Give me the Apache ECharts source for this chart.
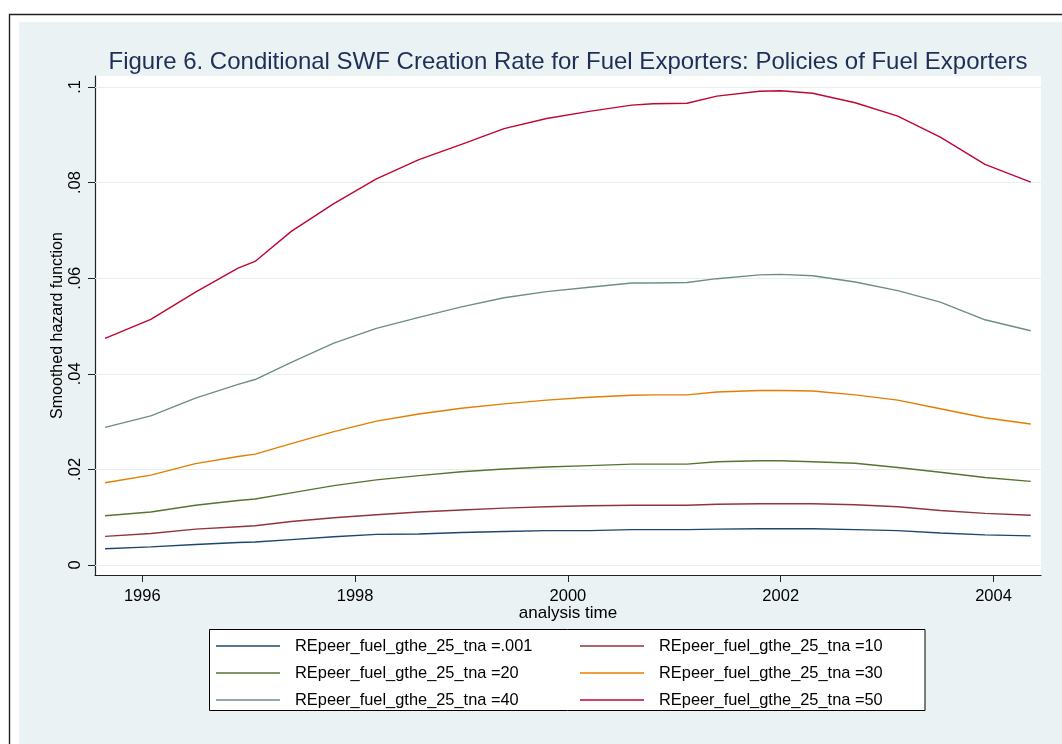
<!DOCTYPE html>
<html>
<head>
<meta charset="utf-8">
<script src="https://cdn.jsdelivr.net/npm/echarts@6/dist/echarts.min.js"></script>
<style>
html,body{margin:0;padding:0;background:#fff;}
#chart{width:1062px;height:744px;}
</style>
</head>
<body>
<div id="chart"></div>
<script>
// analysis time (years)
const years = [1995.65, 1996.08, 1996.5, 1996.9, 1997.06, 1997.4, 1997.8, 1998.2, 1998.6, 1999.0, 1999.4, 1999.8, 2000.2, 2000.6, 2000.8, 2001.12, 2001.4, 2001.8, 2002.0, 2002.3, 2002.7, 2003.1, 2003.5, 2003.92, 2004.35];
const tna001 = [0.0034, 0.0038, 0.0043, 0.0047, 0.0048, 0.0053, 0.0059, 0.0064, 0.0065, 0.0068, 0.0070, 0.0072, 0.0072, 0.0074, 0.0074, 0.0074, 0.0075, 0.0076, 0.0076, 0.0076, 0.0074, 0.0072, 0.0067, 0.0063, 0.0061];
const tna10 = [0.0060, 0.0066, 0.0075, 0.0080, 0.0082, 0.0091, 0.0099, 0.0105, 0.0111, 0.0115, 0.0119, 0.0122, 0.0124, 0.0125, 0.0125, 0.0125, 0.0127, 0.0128, 0.0128, 0.0128, 0.0126, 0.0122, 0.0114, 0.0108, 0.0104];
const tna20 = [0.0103, 0.0111, 0.0125, 0.0135, 0.0138, 0.0151, 0.0166, 0.0178, 0.0187, 0.0195, 0.0201, 0.0205, 0.0208, 0.0211, 0.0211, 0.0211, 0.0216, 0.0218, 0.0218, 0.0216, 0.0213, 0.0204, 0.0194, 0.0183, 0.0175];
const tna30 = [0.0172, 0.0188, 0.0212, 0.0227, 0.0232, 0.0254, 0.0279, 0.0301, 0.0316, 0.0328, 0.0337, 0.0345, 0.0351, 0.0355, 0.0356, 0.0356, 0.0362, 0.0365, 0.0365, 0.0364, 0.0356, 0.0345, 0.0327, 0.0308, 0.0295];
const tna40 = [0.0288, 0.0312, 0.0349, 0.0378, 0.0388, 0.0424, 0.0464, 0.0495, 0.0518, 0.0540, 0.0559, 0.0572, 0.0581, 0.0590, 0.0590, 0.0591, 0.0599, 0.0607, 0.0608, 0.0605, 0.0592, 0.0574, 0.0550, 0.0513, 0.0490];
const tna50 = [0.0474, 0.0514, 0.0571, 0.0621, 0.0635, 0.0698, 0.0756, 0.0808, 0.0848, 0.0880, 0.0913, 0.0934, 0.0949, 0.0962, 0.0965, 0.0966, 0.0981, 0.0991, 0.0992, 0.0987, 0.0967, 0.0939, 0.0895, 0.0838, 0.0801];

const seriesNames = ['REpeer_fuel_gthe_25_tna =.001', 'REpeer_fuel_gthe_25_tna =10', 'REpeer_fuel_gthe_25_tna =20', 'REpeer_fuel_gthe_25_tna =30', 'REpeer_fuel_gthe_25_tna =40', 'REpeer_fuel_gthe_25_tna =50'];
const seriesValues = [tna001, tna10, tna20, tna30, tna40, tna50];
const seriesColors = ['#1A476F', '#90353B', '#55752F', '#E37E00', '#6E8E84', '#C10534'];

const xTicks = [1996, 1998, 2000, 2002, 2004];
const yTicks = [0, 0.02, 0.04, 0.06, 0.08, 0.1];
const yTickLabels = ['0', '.02', '.04', '.06', '.08', '.1'];

const FONT = 'Liberation Sans, Arial, sans-serif';
const chart = echarts.init(document.getElementById('chart'), null, {renderer: 'canvas'});

const lineSeries = seriesNames.map((name, i) => ({
  name: name,
  type: 'line',
  data: years.map((x, j) => [x, seriesValues[i][j]]),
  symbol: 'none',
  showSymbol: false,
  smooth: false,
  color: seriesColors[i],
  lineStyle: {color: seriesColors[i], width: 1.4},
  z: 3
}));

const gridSeries = {
  name: 'grid',
  type: 'line',
  data: [],
  z: 1,
  silent: true,
  markLine: {
    z: 1,
    silent: true,
    symbol: ['none', 'none'],
    label: {show: false},
    lineStyle: {color: '#E6EEF0', width: 1, type: 'solid'},
    emphasis: {disabled: true},
    data: yTicks.map(v => ({yAxis: v}))
  }
};

const legendIcon = 'path://M0,0H64V1.6H0Z';
const legendCommon = {
  orient: 'vertical',
  top: 632.5,
  padding: 0,
  itemGap: 0,
  itemWidth: 64,
  itemHeight: 27,
  icon: legendIcon,
  selectedMode: false,
  textStyle: {fontFamily: FONT, fontSize: 16.4, color: '#000', lineHeight: 27, padding: [0, 0, 0, 10]},
  z: 5
};

const option = {
  animation: false,
  backgroundColor: 'transparent',
  title: {
    text: 'Figure 6. Conditional SWF Creation Rate for Fuel Exporters: Policies of Fuel Exporters',
    left: 568,
    textAlign: 'center',
    top: 50,
    padding: 0,
    textStyle: {fontFamily: FONT, fontSize: 24, fontWeight: 'normal', color: '#1E2E57'}
  },
  graphic: [
    {type: 'rect', z: -20, shape: {x: 9.5, y: 14.5, width: 1070, height: 740}, style: {fill: '#fff', stroke: '#222', lineWidth: 1.4}},
    {type: 'rect', z: -19, shape: {x: 19, y: 22, width: 1043, height: 722}, style: {fill: '#EAF2F3'}},
    {type: 'rect', z: -18, shape: {x: 209.5, y: 629.5, width: 715.5, height: 81}, style: {fill: '#fff', stroke: '#000', lineWidth: 1}}
  ],
  legend: [
    Object.assign({}, legendCommon, {left: 216, data: [seriesNames[0], seriesNames[2], seriesNames[4]]}),
    Object.assign({}, legendCommon, {left: 580, data: [seriesNames[1], seriesNames[3], seriesNames[5]]})
  ],
  grid: {
    left: 95, top: 76, right: 21, bottom: 169,
    containLabel: false,
    outerBoundsMode: 'none',
    show: true,
    backgroundColor: '#fff',
    borderWidth: 0
  },
  xAxis: {
    type: 'value',
    min: 1995.5555,
    max: 2004.4464,
    name: 'analysis time',
    nameLocation: 'middle',
    nameGap: 30,
    nameMoveOverlap: false,
    nameTextStyle: {fontFamily: FONT, fontSize: 17, color: '#000'},
    axisLine: {show: true, onZero: false, lineStyle: {color: '#222', width: 1.2}},
    axisTick: {show: true, length: 7, customValues: xTicks, lineStyle: {color: '#222', width: 1}},
    axisLabel: {show: true, customValues: xTicks, margin: 13, fontFamily: FONT, fontSize: 16.5, color: '#000', formatter: v => String(Math.round(v))},
    splitLine: {show: false}
  },
  yAxis: {
    type: 'value',
    min: -0.00209,
    max: 0.1023,
    name: 'Smoothed hazard function',
    nameLocation: 'middle',
    nameGap: 29,
    nameMoveOverlap: false,
    nameTextStyle: {fontFamily: FONT, fontSize: 16, color: '#000'},
    axisLine: {show: true, onZero: false, lineStyle: {color: '#222', width: 1.2}},
    axisTick: {show: true, length: 7, customValues: yTicks, lineStyle: {color: '#222', width: 1}},
    axisLabel: {
      show: true, customValues: yTicks, rotate: 90, margin: 11,
      fontFamily: FONT, fontSize: 16.5, color: '#000',
      formatter: v => { const k = yTicks.findIndex(t => Math.abs(t - v) < 1e-9); return k >= 0 ? yTickLabels[k] : ''; }
    },
    splitLine: {show: false}
  },
  series: [gridSeries].concat(lineSeries)
};

chart.setOption(option);
</script>
</body>
</html>
